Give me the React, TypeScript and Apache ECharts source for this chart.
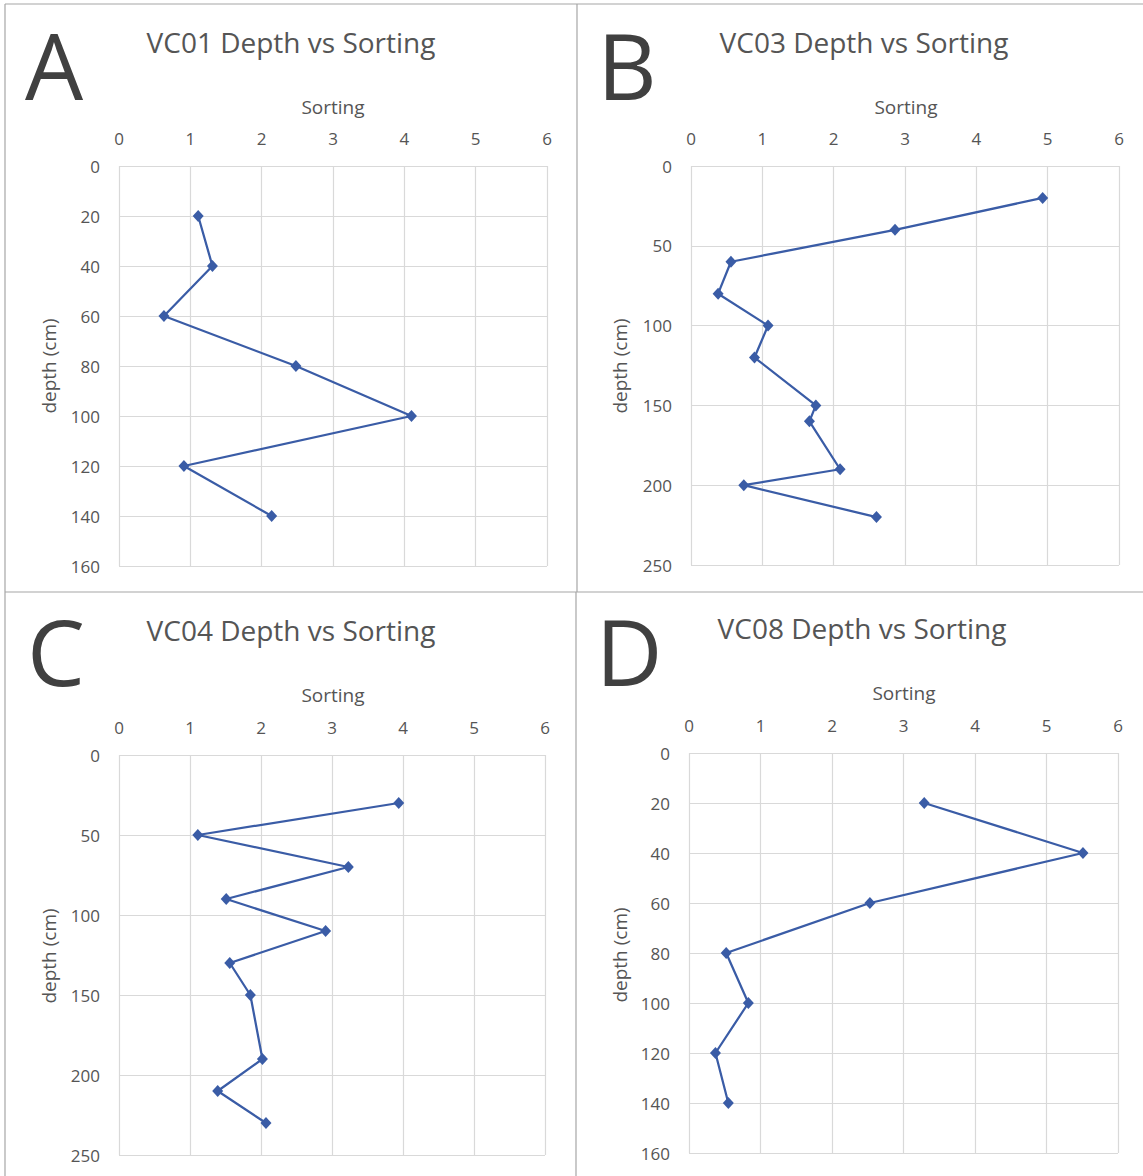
import React, { useEffect, useRef } from "react";
import * as echarts from "echarts";

// ---- data ----
const VC01_DEPTH = [20, 40, 60, 80, 100, 120, 140];
const VC01_SORT = [1.11, 1.31, 0.63, 2.48, 4.1, 0.91, 2.14];

const VC03_DEPTH = [20, 40, 60, 80, 100, 120, 150, 160, 190, 200, 220];
const VC03_SORT = [4.93, 2.86, 0.56, 0.38, 1.08, 0.89, 1.75, 1.66, 2.09, 0.74, 2.6];

const VC04_DEPTH = [30, 50, 70, 90, 110, 130, 150, 190, 210, 230];
const VC04_SORT = [3.94, 1.11, 3.23, 1.51, 2.91, 1.56, 1.85, 2.02, 1.39, 2.07];

const VC08_DEPTH = [20, 40, 60, 80, 100, 120, 140];
const VC08_SORT = [3.29, 5.51, 2.53, 0.52, 0.83, 0.37, 0.55];

const TITLES = ["VC01 Depth vs Sorting", "VC03 Depth vs Sorting", "VC04 Depth vs Sorting", "VC08 Depth vs Sorting"];
const LETTERS = ["A", "B", "C", "D"];
const DEPTH_MAX = [160, 250, 250, 160];
const DEPTH_STEP = [20, 50, 50, 20];
const SORT_MAX = 6;
const SORT_STEP = 1;
const X_NAME = "Sorting";
const Y_NAME = "depth (cm)";

const SERIES = [
  { depth: VC01_DEPTH, sort: VC01_SORT },
  { depth: VC03_DEPTH, sort: VC03_SORT },
  { depth: VC04_DEPTH, sort: VC04_SORT },
  { depth: VC08_DEPTH, sort: VC08_SORT },
];

// ---- layout ----
const PANELS = [
  { grid: { left: 119, top: 166, width: 428, height: 400 }, title: [291, 42], letter: [54, 64], xname: [333, 107], yname: [49, 366] },
  { grid: { left: 691, top: 166, width: 428, height: 399 }, title: [864, 42], letter: [627, 64], xname: [906, 107], yname: [620, 366] },
  { grid: { left: 119, top: 755, width: 426, height: 400 }, title: [291, 630], letter: [56, 650], xname: [333, 695], yname: [49, 956] },
  { grid: { left: 689, top: 753, width: 429, height: 400 }, title: [862, 628], letter: [629, 650], xname: [904, 693], yname: [620, 955] },
];

const FONT = "'Open Sans', 'Noto Sans', sans-serif";
const TEXT_COLOR = "#555555";
const LINE_COLOR = "#3a5ca6";
const GRID_COLOR = "#d9d9d9";
const BORDER_COLOR = "#a6a6a6";

function text(x: number, y: number, t: string, size: number, color: string, rotation = 0) {
  return {
    type: "text",
    x,
    y,
    rotation,
    silent: true,
    style: {
      text: t,
      fill: color,
      font: `${size}px ${FONT}`,
      textAlign: "center",
      textVerticalAlign: "middle",
      align: "center",
      verticalAlign: "middle",
    },
  };
}

function line(x1: number, y1: number, x2: number, y2: number) {
  return {
    type: "line",
    silent: true,
    shape: { x1, y1, x2, y2 },
    style: { stroke: BORDER_COLOR, lineWidth: 1.2 },
  };
}

export default function App() {
  const ref = useRef<HTMLDivElement>(null);

  useEffect(() => {
    document.body.style.margin = "0";
    if (!ref.current) return;
    const chart = echarts.init(ref.current, undefined, { renderer: "svg" });

    const grids = PANELS.map((p) => ({ ...p.grid, containLabel: false }));
    const xAxes = PANELS.map((_, i) => ({
      type: "value",
      gridIndex: i,
      position: "top",
      min: 0,
      max: SORT_MAX,
      interval: SORT_STEP,
      axisLine: { show: false },
      axisTick: { show: false },
      axisLabel: { color: TEXT_COLOR, fontSize: 17, fontFamily: FONT, margin: 19 },
      splitLine: { show: true, lineStyle: { color: GRID_COLOR, width: 1.2 } },
    }));
    const yAxes = PANELS.map((_, i) => ({
      type: "value",
      gridIndex: i,
      inverse: true,
      min: 0,
      max: DEPTH_MAX[i],
      interval: DEPTH_STEP[i],
      axisLine: { show: false },
      axisTick: { show: false },
      axisLabel: { color: TEXT_COLOR, fontSize: 17, fontFamily: FONT, margin: 19 },
      splitLine: { show: true, lineStyle: { color: GRID_COLOR, width: 1.2 } },
    }));
    const series = SERIES.map((s, i) => ({
      type: "line",
      xAxisIndex: i,
      yAxisIndex: i,
      data: s.depth.map((d, k) => [s.sort[k], d]),
      symbol: "diamond",
      symbolSize: [11, 12],
      showSymbol: true,
      lineStyle: { color: LINE_COLOR, width: 2.25 },
      itemStyle: { color: LINE_COLOR },
      emphasis: { disabled: true },
    }));

    const graphics: any[] = [];
    // panel frames
    graphics.push(line(5, 4, 1143, 4));
    graphics.push(line(5, 4, 5, 1176));
    graphics.push(line(577, 4, 577, 592));
    graphics.push(line(576, 592, 576, 1176));
    graphics.push(line(5, 592, 1143, 592));

    PANELS.forEach((p, i) => {
      graphics.push(text(p.letter[0], p.letter[1], LETTERS[i], 92, "#404040"));
      graphics.push(text(p.title[0], p.title[1], TITLES[i], 28, TEXT_COLOR));
      graphics.push(text(p.xname[0], p.xname[1], X_NAME, 19, TEXT_COLOR));
      graphics.push(text(p.yname[0], p.yname[1], Y_NAME, 19, TEXT_COLOR, Math.PI / 2));
    });

    chart.setOption({
      animation: false,
      backgroundColor: "#ffffff",
      grid: grids,
      xAxis: xAxes,
      yAxis: yAxes,
      series,
      graphic: { elements: graphics },
    });

    return () => chart.dispose();
  }, []);

  return <div ref={ref} style={{ width: 1143, height: 1176 }} />;
}
